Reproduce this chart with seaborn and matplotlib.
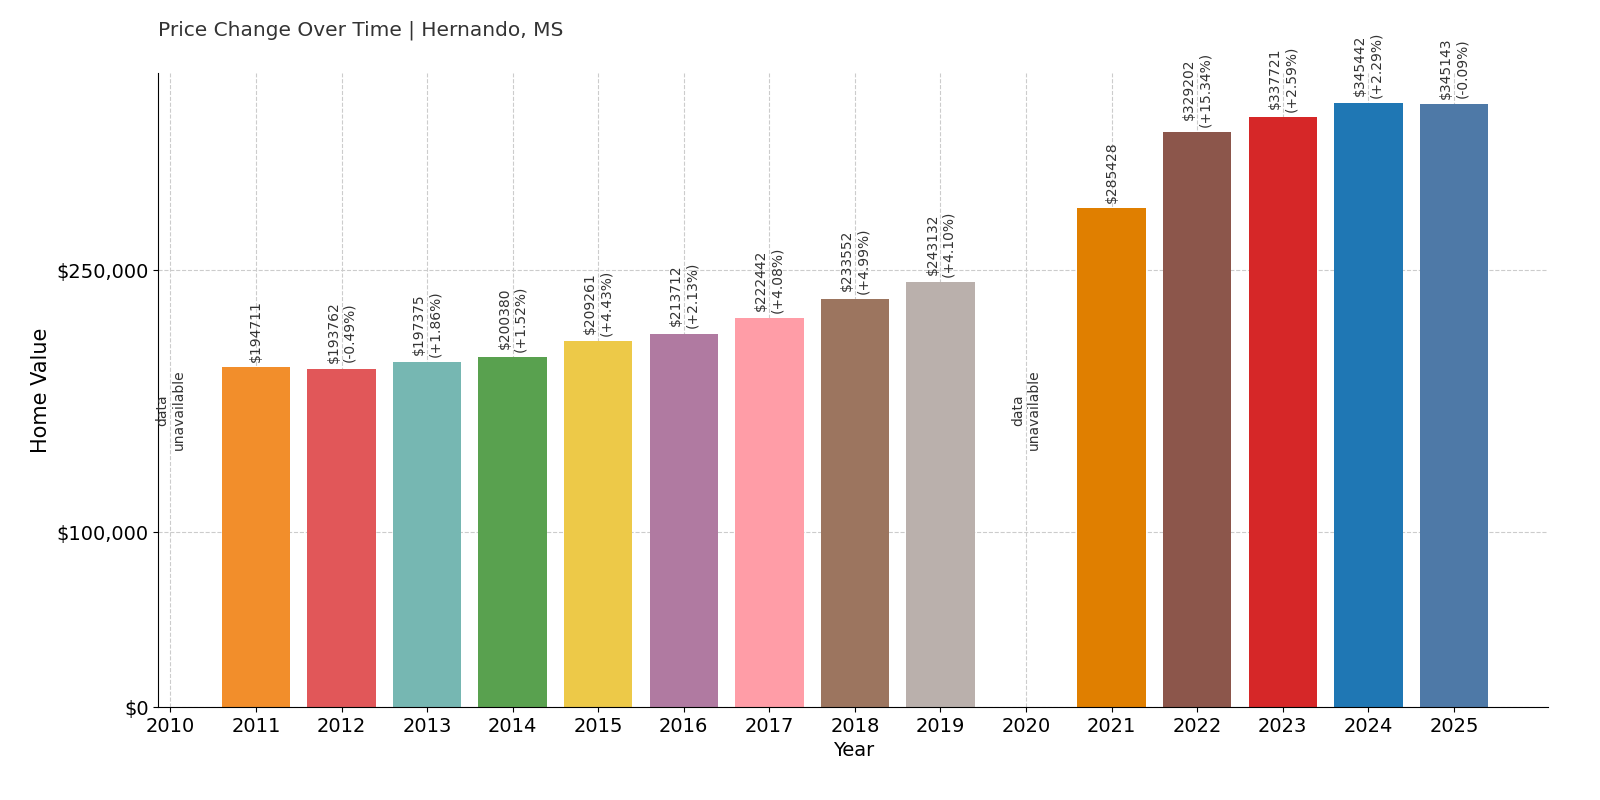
import matplotlib
matplotlib.use("Agg")
import matplotlib.pyplot as plt
import seaborn as sns
import pandas as pd
from matplotlib.ticker import FuncFormatter

years = [2011, 2012, 2013, 2014, 2015, 2016, 2017, 2018, 2019, 2021, 2022, 2023, 2024, 2025]
values = [194711, 193762, 197375, 200380, 209261, 213712, 222442, 233552, 243132, 285428, 329202, 337721, 345442, 345143]
changes = [None, "-0.49%", "+1.86%", "+1.52%", "+4.43%", "+2.13%", "+4.08%", "+4.99%", "+4.10%", None, "+15.34%", "+2.59%", "+2.29%", "-0.09%"]
missing_years = [2010, 2020]
colors = ["#F28E2B", "#E15759", "#76B7B2", "#59A14F", "#EDC948", "#B07AA1", "#FF9DA7", "#9C755F", "#BAB0AC",
          "#E07F00", "#8C564B", "#D62728", "#1F77B4", "#4E79A7"]

df = pd.DataFrame({"Year": years, "Value": values})
fig, ax = plt.subplots(figsize=(16, 8), dpi=100)
fig.subplots_adjust(left=0.099, right=0.9675, top=0.909, bottom=0.116)
sns.barplot(data=df, x="Year", y="Value", hue="Year", palette=colors, native_scale=True,
            legend=False, ax=ax, width=0.8, saturation=1)

for y, v, c in zip(years, values, changes):
    label = f"${v}" if c is None else f"${v}\n({c})"
    ax.text(y, v + 3000, label, rotation=90, ha="center", va="bottom", fontsize=10, color="#333333")
for y in missing_years:
    ax.text(y, 170000, "data\nunavailable", rotation=90, ha="center", va="center", fontsize=10, color="#333333")

ax.set_xlim(2009.86, 2026.1)
ax.set_ylim(0, 363000)
ax.set_yticks([0, 100000, 250000])
ax.yaxis.set_major_formatter(FuncFormatter(lambda v, p: f"${v:,.0f}"))
ax.set_xticks(list(range(2010, 2026)))
ax.tick_params(labelsize=14)
ax.set_xlabel("Year", fontsize=14)
ax.set_ylabel("Home Value", fontsize=15)
ax.grid(True, linestyle="--", color="#cccccc", linewidth=0.8)
ax.set_axisbelow(True)
for s in ["top", "right"]:
    ax.spines[s].set_visible(False)
fig.text(0.099, 0.955, "Price Change Over Time | Hernando, MS", fontsize=14.5, color="#333333", ha="left")
fig.savefig("out.png")
